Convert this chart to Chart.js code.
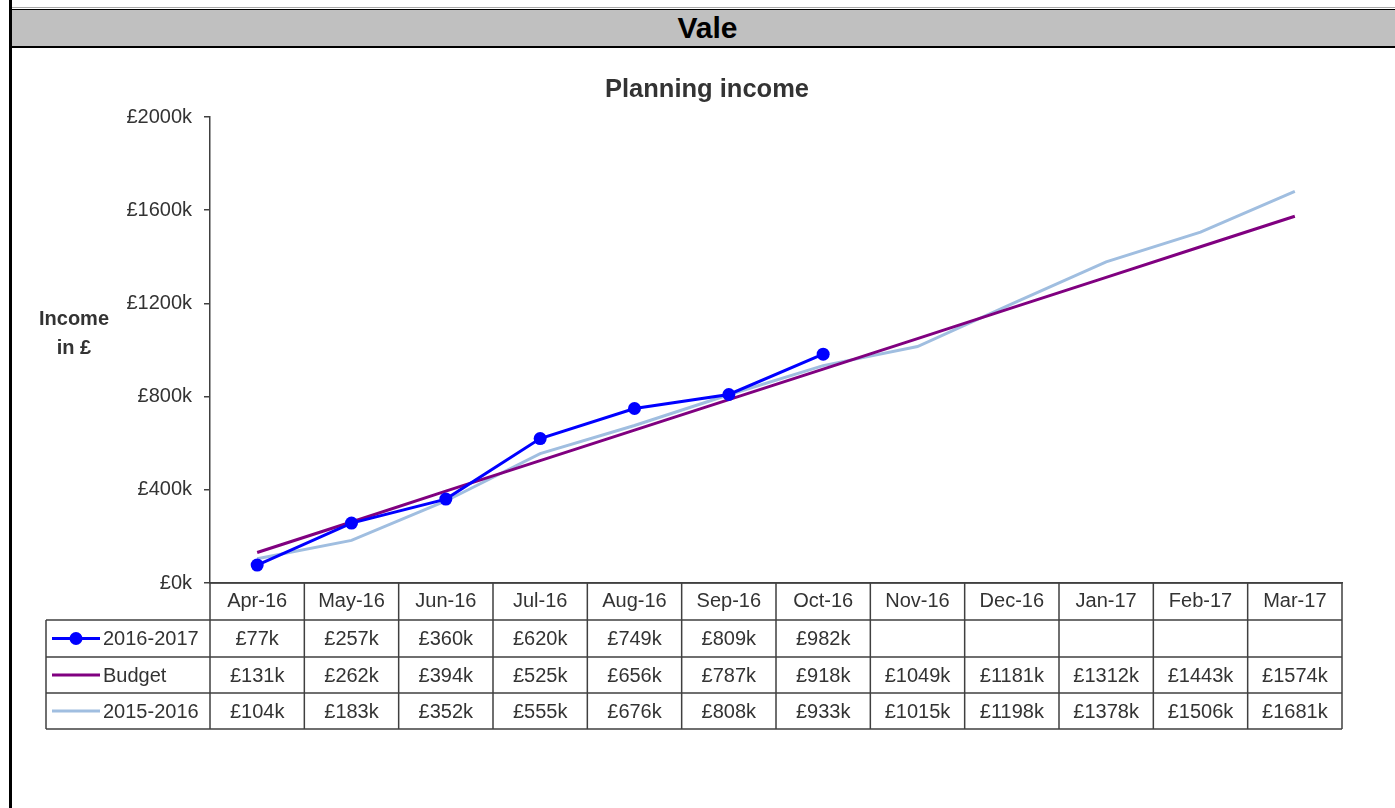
<!DOCTYPE html>
<html>
<head>
<meta charset="utf-8">
<title>Vale - Planning income</title>
<script src="https://cdn.jsdelivr.net/npm/chart.js@4/dist/chart.umd.min.js"></script>
<style>
  body { margin: 0; background: #fff; font-family: "Liberation Sans", Arial, sans-serif; }
  .frame-left { position: absolute; left: 9px; top: 0; width: 3px; height: 808px; background: #000; }
  .top-rule { position: absolute; left: 12px; right: 0; top: 7px; height: 1px; background: #a8a8a8; }
  .header {
    position: absolute; left: 12px; right: 0; top: 9px; height: 36px; padding-left: 8px;
    background: #c0c0c0; border-top: 1px solid #000; border-bottom: 2px solid #000;
    text-align: center; font-weight: bold; font-size: 30px; line-height: 36px; color: #000;
  }
  .graphs { position: absolute; left: 10px; top: 48px; }
</style>
</head>
<body>
<div class="top-rule"></div>
<div class="header">Vale</div>
<div class="frame-left"></div>
<div class="graphs"><canvas id="income" width="1385" height="760"></canvas></div>

<script>
// values in £k
const months = ["Apr-16", "May-16", "Jun-16", "Jul-16", "Aug-16", "Sep-16",
  "Oct-16", "Nov-16", "Dec-16", "Jan-17", "Feb-17", "Mar-17"];
const income1617 = [77, 257, 360, 620, 749, 809, 982, null, null, null, null, null];
const budget = [131, 262, 394, 525, 656, 787, 918, 1049, 1181, 1312, 1443, 1574];
const income1516 = [104, 183, 352, 555, 676, 808, 933, 1015, 1198, 1378, 1506, 1681];
const yTicks = [0, 400, 800, 1200, 1600, 2000];

const TEXT = "#333";
const LINES = "#404040";
const FONT = "'Liberation Sans', Arial, sans-serif";

Chart.defaults.font.family = FONT;
Chart.defaults.color = TEXT;

const money = (v) => "£" + v + "k";

// draws the data table under the plot + the y axis caption
const tablePlugin = {
  id: "dataTable",
  afterDraw(chart) {
    const { ctx, chartArea, scales } = chart;
    const x = scales.x;
    const left = chartArea.left;
    const right = chartArea.right;
    const step = (right - left) / months.length;
    const top = chartArea.bottom;
    const rows = [top, top + 37, top + 74, top + 110, top + 146];
    const legendLeft = 36;

    ctx.save();
    ctx.strokeStyle = LINES;
    ctx.lineWidth = 1.5;
    ctx.beginPath();
    ctx.moveTo(left, rows[0]);
    ctx.lineTo(right, rows[0]);
    for (let r = 1; r < rows.length; r++) {
      ctx.moveTo(legendLeft, rows[r]);
      ctx.lineTo(right, rows[r]);
    }
    for (let i = 0; i <= months.length; i++) {
      ctx.moveTo(left + i * step, rows[0]);
      ctx.lineTo(left + i * step, rows[4]);
    }
    ctx.moveTo(legendLeft, rows[1]);
    ctx.lineTo(legendLeft, rows[4]);
    ctx.stroke();

    ctx.font = "20px " + FONT;
    ctx.fillStyle = TEXT;
    ctx.textBaseline = "middle";
    chart.data.datasets.forEach((ds, r) => {
      const cy = (rows[r + 1] + rows[r + 2]) / 2;
      ctx.textAlign = "center";
      ds.data.forEach((v, i) => {
        if (v === null) return;
        ctx.fillText(money(v), x.getPixelForValue(i), cy + 1);
      });
      // legend key
      ctx.strokeStyle = ds.borderColor;
      ctx.lineWidth = 3;
      ctx.beginPath();
      ctx.moveTo(42, cy);
      ctx.lineTo(90, cy);
      ctx.stroke();
      if (ds.pointRadius > 0) {
        ctx.fillStyle = ds.borderColor;
        ctx.beginPath();
        ctx.arc(66, cy, 6.5, 0, Math.PI * 2);
        ctx.fill();
      }
      ctx.fillStyle = TEXT;
      ctx.textAlign = "left";
      ctx.fillText(ds.label, 93, cy + 1);
    });

    ctx.font = "bold 20px " + FONT;
    ctx.textAlign = "center";
    ctx.fillText("Income", 64, 271);
    ctx.fillText("in £", 64, 300);
    ctx.restore();
  },
};

new Chart(document.getElementById("income"), {
  type: "line",
  data: {
    labels: months,
    datasets: [
      {
        label: "2016-2017",
        data: income1617,
        borderColor: "#0000ff",
        backgroundColor: "#0000ff",
        borderWidth: 3,
        pointRadius: 6.5,
        pointBorderWidth: 0,
      },
      {
        label: "Budget",
        data: budget,
        borderColor: "#800080",
        borderWidth: 3,
        pointRadius: 0,
      },
      {
        label: "2015-2016",
        data: income1516,
        borderColor: "#a0bee0",
        borderWidth: 3,
        pointRadius: 0,
      },
    ],
  },
  options: {
    responsive: false,
    animation: false,
    // left padding keeps the title centred on the page like the original
    layout: { padding: { left: 62, right: 53, top: 0, bottom: 0 } },
    plugins: {
      legend: { display: false },
      tooltip: { enabled: false },
      title: {
        display: true,
        text: "Planning income",
        color: TEXT,
        font: { size: 25.5, weight: "bold" },
        padding: { top: 27, bottom: 11.4 },
      },
    },
    scales: {
      x: {
        offset: true,
        grid: { display: true, drawOnChartArea: false, drawTicks: false },
        border: { display: true, color: LINES, width: 1.5 },
        ticks: { color: TEXT, font: { size: 20 }, padding: 6, maxRotation: 0 },
        afterFit(scale) {
          scale.height = 225;
        },
      },
      y: {
        min: 0,
        max: 2000,
        afterBuildTicks(scale) {
          scale.ticks = yTicks.map((v) => ({ value: v }));
        },
        grid: { drawOnChartArea: false, drawTicks: true, tickLength: 6, color: LINES, lineWidth: 1.5 },
        border: { display: true, color: LINES, width: 1.5 },
        ticks: { color: TEXT, font: { size: 20 }, padding: 12, callback: money },
        afterFit(scale) {
          scale.width = 138;
        },
      },
    },
  },
  plugins: [tablePlugin],
});
</script>
</body>
</html>
